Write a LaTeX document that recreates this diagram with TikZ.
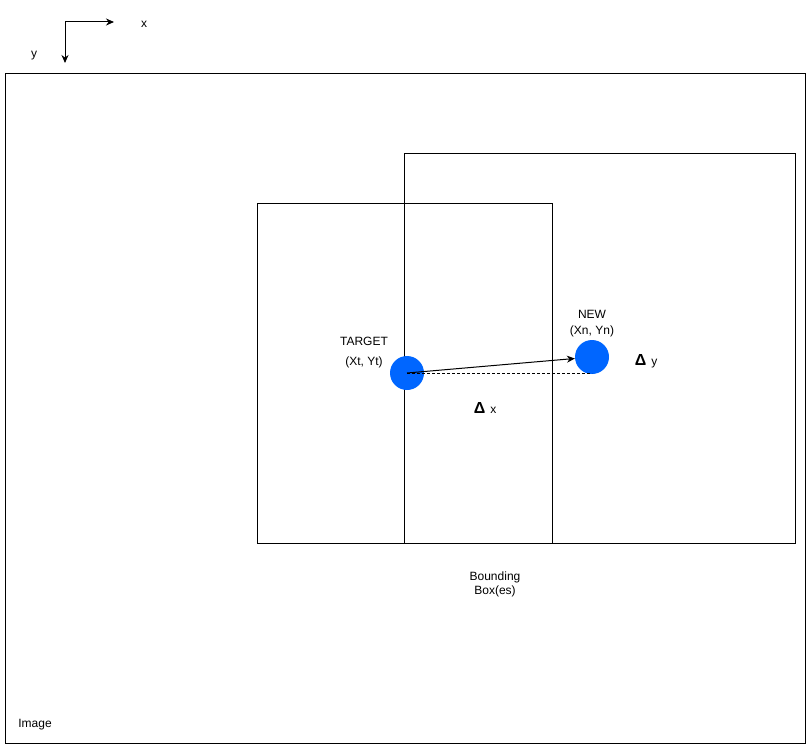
\documentclass[tikz,border=0pt]{standalone}
\usepackage{fontspec}
\setmainfont{Liberation Sans}
\usetikzlibrary{arrows.meta}
\definecolor{dotblue}{HTML}{0066FF}
\tikzset{
  lbl/.style={inner sep=0pt, font=\fontsize{12}{14}\selectfont, align=center},
  dot/.style={circle, fill=dotblue, draw=none, minimum size=34pt, inner sep=0pt},
  box/.style={draw=black, line width=1pt},
  arr/.style={line width=1pt, -{Stealth[length=8pt,width=7pt]}},
}
\newcommand{\bigdelta}{{\fontsize{16}{16}\selectfont\bfseries Δ}}
\begin{document}
\begin{tikzpicture}[x=1pt,y=-1pt]
\useasboundingbox (0,0) rectangle (811,749);
% axes
\coordinate (o) at (65,22);
\coordinate (xe) at (114,22);
\coordinate (ye) at (65,63);
\draw[arr] (o) -- (xe);
\draw[arr] (o) -- (ye);
\node[lbl] (xl) at (144,24.5) {x};
\node[lbl] (yl) at (34,55.5) {y};
% image frame and boxes
\draw[box] (5,73.5) rectangle (805,743);
\draw[box] (257,203.5) rectangle (552,543);
\draw[box] (404,153.5) rectangle (795,543);
% points
\node[dot] (t) at (407,373) {};
\node[dot] (n) at (592,357) {};
\draw[line width=1pt, dash pattern=on 3pt off 2pt] (t.center) -- (t.center -| n.south);
\draw[arr] (t.center) -- (n);
% labels
\node[lbl] (tl) at (364,341.5) {TARGET};
\node[lbl] (tc) at (364,362.5) {(Xt, Yt)};
\node[lbl] (nl) at (592,314.5) {NEW};
\node[lbl] (nc) at (592,331.5) {(Xn, Yn)};
\node[lbl, anchor=base] (dy) at (646,365) {\bigdelta\hspace{5pt}y};
\node[lbl, anchor=base] (dx) at (485,413) {\bigdelta\hspace{5pt}x};
\node[lbl] (bb) at (495,584.5) {Bounding\\Box(es)};
\node[lbl] (im) at (35,724.5) {Image};
\end{tikzpicture}
\end{document}
